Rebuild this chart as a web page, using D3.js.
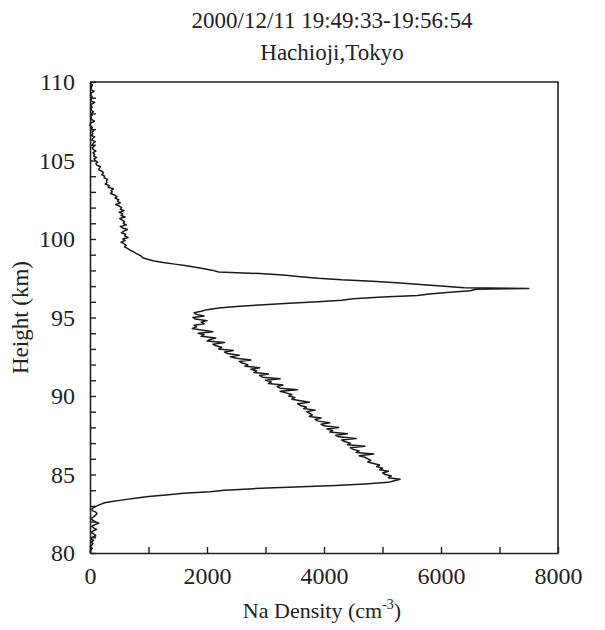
<!DOCTYPE html>
<html>
<head>
<meta charset="utf-8">
<script src="https://cdn.jsdelivr.net/npm/d3@7"></script>
<style>
  body { margin: 0; background: #fff; }
  svg text { font-family: "Liberation Serif", "DejaVu Serif", serif; fill: #222; }
</style>
</head>
<body>
<div id="chart"></div>
<script>
// Title lines
const titleLines = ["2000/12/11 19:49:33-19:56:54", "Hachioji,Tokyo"];

// Tick labels
const xTickLabels = [0, 2000, 4000, 6000, 8000];
const xMinorTicks = [0, 1000, 2000, 3000, 4000, 5000, 6000, 7000, 8000];
const yTickLabels = [80, 85, 90, 95, 100, 105, 110];
const yMinorTicks = d3.range(80, 111, 1);

// Na density profile: [height (km), density (cm^-3)]
const profileTop = [
  [110.0, 20], [109.9, 10], [109.8, 40], [109.7, 30], [109.6, 15], [109.5, 25], [109.4, 70], [109.3, 20],
  [109.2, 10], [109.1, 30], [109.0, 45], [108.9, 20], [108.8, 15], [108.7, 80], [108.6, 30], [108.5, 20],
  [108.4, 35], [108.3, 15], [108.2, 25], [108.1, 60], [108.0, 20], [107.9, 40], [107.8, 10], [107.7, 25],
  [107.6, 30], [107.5, 75], [107.4, 20], [107.3, 0], [107.2, 5], [107.1, 40], [107.0, 25], [106.9, 60],
  [106.8, 35], [106.7, 50], [106.6, 20], [106.5, 80], [106.4, 45], [106.3, 30], [106.2, 90], [106.1, 55],
  [106.0, 40], [105.9, 70], [105.8, 35], [105.7, 60], [105.6, 100], [105.5, 50], [105.4, 80], [105.3, 60],
  [105.2, 110], [105.1, 70], [105.0, 90], [104.9, 130], [104.8, 100], [104.7, 120], [104.6, 180], [104.5, 160],
  [104.4, 150], [104.3, 210], [104.2, 230], [104.1, 200], [104.0, 250], [103.9, 240], [103.8, 300], [103.7, 280],
  [103.6, 290], [103.5, 260], [103.4, 330], [103.3, 310], [103.2, 400], [103.1, 360], [103.0, 380], [102.9, 350],
  [102.8, 420], [102.7, 460], [102.6, 430], [102.5, 490], [102.4, 470], [102.3, 520], [102.2, 440], [102.1, 500],
  [102.0, 540], [101.9, 520], [101.8, 580], [101.7, 500], [101.6, 560], [101.5, 530], [101.4, 600], [101.3, 510],
  [101.2, 550], [101.1, 590], [101.0, 570], [100.9, 620], [100.8, 520], [100.7, 560], [100.6, 640], [100.5, 580],
  [100.4, 540], [100.3, 610], [100.2, 590], [100.1, 650], [100.0, 560], [99.9, 600], [99.8, 530], [99.7, 580],
  [99.6, 620], [99.5, 590], [99.4, 640], [99.3, 680], [99.2, 740], [99.1, 780], [99.0, 830], [98.9, 880],
  [98.8, 900], [98.7, 1000], [98.6, 1100], [98.5, 1250], [98.4, 1450], [98.3, 1650], [98.2, 1800], [98.1, 1950],
  [98.0, 2100], [97.9, 2200], [97.8, 2900], [97.7, 3300], [97.6, 3600], [97.5, 3900], [97.4, 4300], [97.3, 4900],
  [97.2, 5300], [97.1, 5650], [97.0, 6000], [96.9, 6400], [96.85, 7500], [96.8, 6600], [96.7, 6500], [96.6, 6100],
  [96.5, 5800], [96.4, 5600], [96.3, 5000], [96.2, 4500], [96.1, 4300], [96.0, 3900], [95.9, 3400], [95.8, 2900],
  [95.7, 2500], [95.6, 2200], [95.5, 2000]
];

const profileBottom = [
  [95.4, 1900], [95.3, 1780], [95.2, 1820], [95.1, 1950], [95.0, 1760], [94.9, 1800], [94.8, 2000], [94.7, 1900],
  [94.6, 1950], [94.5, 1780], [94.4, 1820], [94.3, 1750], [94.2, 1900], [94.1, 2100], [94.0, 1850], [93.9, 1950],
  [93.8, 1900], [93.7, 2150], [93.6, 2050], [93.5, 2000], [93.4, 2300], [93.3, 2100], [93.2, 2150], [93.1, 2250],
  [93.0, 2200], [92.9, 2450], [92.8, 2300], [92.7, 2350], [92.6, 2550], [92.5, 2400], [92.4, 2500], [92.3, 2750],
  [92.2, 2550], [92.1, 2600], [92.0, 2700], [91.9, 2650], [91.8, 2900], [91.7, 2750], [91.6, 2850], [91.5, 2800],
  [91.4, 3050], [91.3, 2900], [91.2, 2950], [91.1, 3250], [91.0, 3000], [90.9, 3100], [90.8, 3050], [90.7, 3300],
  [90.6, 3200], [90.5, 3250], [90.4, 3550], [90.3, 3250], [90.2, 3350], [90.1, 3450], [90.0, 3400], [89.9, 3500],
  [89.8, 3450], [89.7, 3600], [89.6, 3750], [89.5, 3550], [89.4, 3600], [89.3, 3700], [89.2, 3650], [89.1, 3850],
  [89.0, 3700], [88.9, 3750], [88.8, 3800], [88.7, 3750], [88.6, 3950], [88.5, 3850], [88.4, 3900], [88.3, 4100],
  [88.2, 3950], [88.1, 4000], [88.0, 4250], [87.9, 4050], [87.8, 4150], [87.7, 4100], [87.6, 4400], [87.5, 4200],
  [87.4, 4250], [87.3, 4550], [87.2, 4300], [87.1, 4350], [87.0, 4450], [86.9, 4400], [86.8, 4700], [86.7, 4450],
  [86.6, 4500], [86.5, 4600], [86.4, 4550], [86.3, 4850], [86.2, 4600], [86.1, 4700], [86.0, 4750], [85.9, 4800],
  [85.8, 4750], [85.7, 4850], [85.6, 4950], [85.5, 4900], [85.4, 5000], [85.3, 4950], [85.2, 5100], [85.1, 5000],
  [85.0, 5050], [84.9, 5150], [84.8, 5100], [84.7, 5300], [84.6, 5200], [84.5, 5100], [84.4, 4700], [84.3, 4200],
  [84.2, 3500], [84.1, 2800], [84.0, 2300], [83.9, 2050], [83.8, 1600], [83.7, 1300], [83.6, 1000], [83.5, 800],
  [83.4, 600], [83.3, 400], [83.2, 250], [83.1, 180], [83.0, 120], [82.9, 60], [82.8, 30], [82.7, 40],
  [82.6, 100], [82.5, 120], [82.4, 90], [82.3, 60], [82.2, 20], [82.1, 40], [82.0, 90], [81.9, 150],
  [81.8, 80], [81.7, 30], [81.6, 60], [81.5, 110], [81.4, 50], [81.3, 20], [81.2, 70], [81.1, 100],
  [81.0, 40], [80.9, 10], [80.8, 60], [80.7, 20], [80.6, 50], [80.5, 30], [80.4, 0], [80.3, 40],
  [80.2, 20], [80.1, 0], [80.0, 10]
];

const profile = profileTop.concat(profileBottom);

const W = 605, H = 630;
const margin = {top: 82, right: 47, bottom: 77, left: 90};
const width = W - margin.left - margin.right;
const height = H - margin.top - margin.bottom;

const svg = d3.select("#chart").append("svg")
  .attr("width", W)
  .attr("height", H);

const g = svg.append("g")
  .attr("transform", `translate(${margin.left},${margin.top})`);

const x = d3.scaleLinear().domain([0, 8000]).range([0, width]);
const y = d3.scaleLinear().domain([80, 110]).range([height, 0]);

// titles
svg.selectAll(".title")
  .data(titleLines)
  .enter().append("text")
  .attr("class", "title")
  .attr("x", 332)
  .attr("y", (d, i) => 28 + i * 32)
  .attr("text-anchor", "middle")
  .style("font-size", "23px")
  .text(d => d);

// frame (top and right)
g.append("path")
  .attr("d", `M0,0H${width}V${height}`)
  .attr("fill", "none")
  .attr("stroke", "#222")
  .attr("stroke-width", 1.6);

// y axis: minor ticks every km, labels every 5 km
const yAxis = g.append("g")
  .call(d3.axisLeft(y)
    .tickValues(yMinorTicks)
    .tickSizeInner(-6)
    .tickSizeOuter(0)
    .tickPadding(15)
    .tickFormat(d => yTickLabels.includes(d) ? d : ""));

// x axis: ticks every 1000, labels every 2000
const xAxis = g.append("g")
  .attr("transform", `translate(0,${height})`)
  .call(d3.axisBottom(x)
    .tickValues(xMinorTicks)
    .tickSizeInner(-6)
    .tickSizeOuter(0)
    .tickPadding(14)
    .tickFormat(d => xTickLabels.includes(d) ? d : ""));

[yAxis, xAxis].forEach(ax => {
  ax.select(".domain").attr("stroke", "#222").attr("stroke-width", 1.6);
  ax.selectAll(".tick line").attr("stroke", "#222").attr("stroke-width", 1.4);
  ax.selectAll(".tick text")
    .style("font-size", "24px")
    .style("font-family", "'Liberation Serif', serif")
    .attr("fill", "#222");
});
xAxis.selectAll(".tick text").attr("dy", "0.71em");

// profile line
const line = d3.line()
  .x(d => x(d[1]))
  .y(d => y(d[0]));

g.append("path")
  .datum(profile)
  .attr("d", line)
  .attr("fill", "none")
  .attr("stroke", "#1a1a1a")
  .attr("stroke-width", 1.5)
  .attr("stroke-linejoin", "round");

// axis titles
svg.append("text")
  .attr("transform", `translate(28,${margin.top + height / 2}) rotate(-90)`)
  .attr("text-anchor", "middle")
  .style("font-size", "23px")
  .text("Height (km)");

const xt = svg.append("text")
  .attr("x", margin.left + width / 2 - 2)
  .attr("y", 618)
  .attr("text-anchor", "middle")
  .style("font-size", "22px");
xt.append("tspan").text("Na Density (cm");
xt.append("tspan").attr("dy", -9).style("font-size", "14px").text("-3");
xt.append("tspan").attr("dy", 9).text(")");
</script>
</body>
</html>
